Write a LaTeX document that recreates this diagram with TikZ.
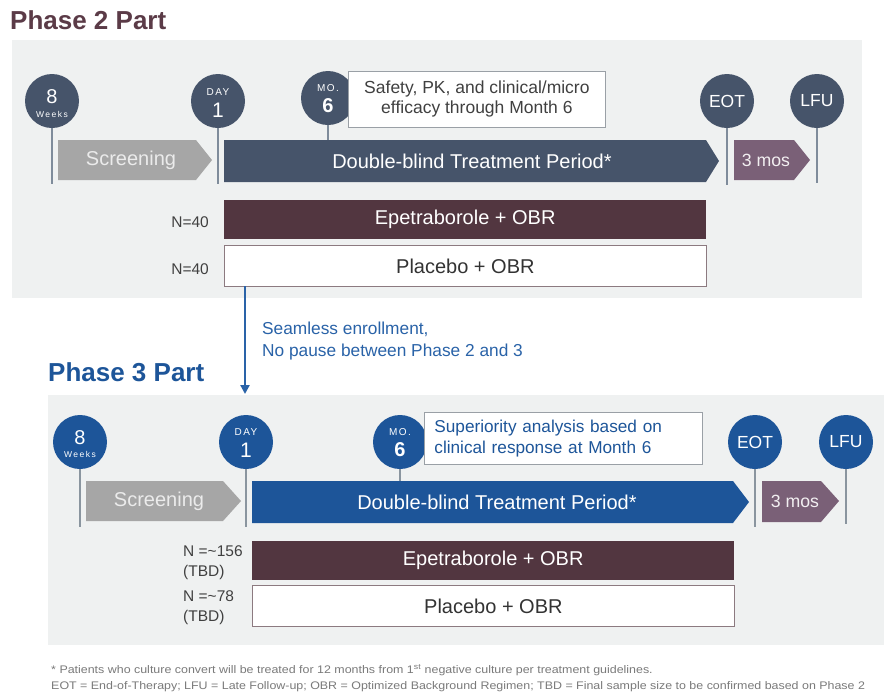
\documentclass[tikz,border=0pt]{standalone}
\usepackage{fontspec}
\setmainfont{Liberation Sans}
\usetikzlibrary{arrows.meta}
\definecolor{ptwo}{HTML}{46546A}
\definecolor{pthree}{HTML}{1D5599}
\definecolor{titlered}{HTML}{5B3B47}
\definecolor{epe}{HTML}{523640}
\definecolor{mos}{HTML}{7A6077}
\definecolor{scr}{HTML}{A6A6A6}
\definecolor{panel}{HTML}{EFF1F1}
\definecolor{stemtwo}{HTML}{7F8C9B}
\definecolor{stemthree}{HTML}{8A959F}
\definecolor{txtdark}{HTML}{404040}
\definecolor{plborder}{HTML}{8C7A80}
\definecolor{coborder}{HTML}{9AA0A6}
\definecolor{seam}{HTML}{2A63A8}
\definecolor{foot}{HTML}{7A7A7A}
\newcommand\fsz[2]{\fontsize{#1}{#2}\selectfont}
\tikzset{
  circtwo/.style={circle, fill=ptwo, minimum size=54pt, inner sep=0pt},
  circthree/.style={circle, fill=pthree, minimum size=54pt, inner sep=0pt},
  ctext/.style={text=white, inner sep=0pt},
  stemline/.style={line width=2pt},
  bartext/.style={inner sep=0pt},
  epebar/.style={fill=epe, text=white, minimum width=482pt, minimum height=39pt, anchor=north west, inner sep=0pt, font=\fsz{20}{22}},
  plbar/.style={fill=white, draw=plborder, line width=0.8pt, text=txtdark!80!black, minimum width=482pt, minimum height=41pt, anchor=north west, inner sep=0pt, font=\fsz{20}{22}},
  nlabel/.style={text=txtdark, inner sep=0pt, font=\fsz{15.5}{20}},
  callout/.style={fill=white, draw=coborder, line width=0.8pt, anchor=north west},
  smallcap/.style={ctext, font=\fsz{10}{10}\addfontfeature{LetterSpace=15}},
  weekstext/.style={ctext, font=\fsz{8.5}{9}\addfontfeature{LetterSpace=18}},
  foottext/.style={anchor=base west, inner sep=0pt, text=foot, font=\fsz{11}{12}, xscale=1.13, transform shape},
}
\begin{document}
\begin{tikzpicture}[x=1pt,y=-1pt]
\useasboundingbox (0,0) rectangle (884,697);
\fill[white] (0,0) rectangle (884,697);

% ===== Phase 2 =====
\node[anchor=base west, inner sep=0pt, font=\bfseries\fsz{26}{30}, text=titlered] (ttwo) at (10,29) {Phase 2 Part};
\fill[panel] (12,40) rectangle (862,298);

% stems
\coordinate (swa) at (52,184);
\coordinate (sda) at (218,184);
\coordinate (sma) at (328,140);
\coordinate (sea) at (727,185);
\coordinate (sla) at (817,183);

\node[circtwo] (wa) at (52,101) {};
\node[circtwo] (da) at (218,101) {};
\node[circtwo] (ma) at (328,98) {};
\node[circtwo] (ea) at (727,101) {};
\node[circtwo] (la) at (817,101) {};

\draw[stemline, stemtwo] (wa) -- (swa);
\draw[stemline, stemtwo] (da) -- (sda);
\draw[stemline, stemtwo] (ma) -- (sma);
\draw[stemline, stemtwo] (ea) -- (sea);
\draw[stemline, stemtwo] (la) -- (sla);

\node[ctext, font=\fsz{20}{20}] (waa) at ([yshift=4pt]wa.center) {8};
\node[weekstext] (wab) at ([yshift=-13pt]wa.center) {Weeks};
\node[smallcap] (daa) at ([yshift=9pt]da.center) {DAY};
\node[ctext, font=\fsz{21}{21}] (dab) at ([yshift=-9pt]da.center) {1};
\node[smallcap] (maa) at ([yshift=10pt]ma.center) {MO.};
\node[ctext, font=\bfseries\fsz{20}{20}] (mab) at ([yshift=-8pt]ma.center) {6};
\node[ctext, font=\fsz{17.5}{20}] (eat) at (ea.center) {EOT};
\node[ctext, font=\fsz{17.5}{20}] (lat) at (la.center) {LFU};

% arrows
\fill[scr] (58,140) -- (196,140) -- (212,160) -- (196,180) -- (58,180) -- cycle;
\node[bartext, text=white!92!black, font=\fsz{20}{22}] (scra) at (131,160) {Screening};
\fill[ptwo] (224,140) -- (706,140) -- (719,161) -- (706,182) -- (224,182) -- cycle;
\node[bartext, text=white, font=\fsz{20}{22}] (dbta) at (472,161) {Double-blind Treatment Period*};
\fill[mos] (734,140) -- (794,140) -- (810,160) -- (794,180) -- (734,180) -- cycle;
\node[bartext, text=white!90!mos, font=\fsz{17.7}{20}] (mosa) at (766,160) {3 mos};

\node[callout, minimum width=257pt, minimum height=56pt, align=center, text=txtdark, font=\fsz{17.5}{20}] (coa) at (348,71) {Safety, PK, and clinical/micro\\efficacy through Month 6};

\node[epebar] (epa) at (224,200) {Epetraborole + OBR};
\node[plbar] (pla) at (224,245) {Placebo + OBR};
\node[nlabel, anchor=east] (nea) at (209,222) {N=40};
\node[nlabel, anchor=east] (npa) at (209,269) {N=40};

% seamless arrow
\coordinate (arrs) at (245,286);
\coordinate (arre) at (245,394);
\draw[seam, line width=2.2pt, -{Triangle[length=9pt,width=9pt]}] (arrs) -- (arre);
\node[anchor=west, align=left, inner sep=0pt, text=seam, font=\fsz{17.3}{22}] (seamt) at (262,341) {Seamless enrollment,\\No pause between Phase 2 and 3};

% ===== Phase 3 =====
\node[anchor=base west, inner sep=0pt, font=\bfseries\fsz{26}{30}, text=pthree] (tthree) at (48,381) {Phase 3 Part};
\fill[panel] (48,395) rectangle (884,645);

\coordinate (swb) at (80,527);
\coordinate (sdb) at (246,527);
\coordinate (smb) at (400,481);
\coordinate (seb) at (755,527);
\coordinate (slb) at (846,524);

\node[circthree] (wb) at (80,442) {};
\node[circthree] (db) at (246,442) {};
\node[circthree] (mb) at (400,442) {};
\node[circthree] (eb) at (755,442) {};
\node[circthree] (lb) at (846,442) {};

\draw[stemline, stemthree] (wb) -- (swb);
\draw[stemline, stemthree] (db) -- (sdb);
\draw[stemline, stemthree] (mb) -- (smb);
\draw[stemline, stemthree] (eb) -- (seb);
\draw[stemline, stemthree] (lb) -- (slb);

\node[ctext, font=\fsz{20}{20}] (wba) at ([yshift=4pt]wb.center) {8};
\node[weekstext] (wbb) at ([yshift=-12pt]wb.center) {Weeks};
\node[smallcap] (dba) at ([yshift=10pt]db.center) {DAY};
\node[ctext, font=\fsz{21}{21}] (dbb) at ([yshift=-8pt]db.center) {1};
\node[smallcap] (mba) at ([yshift=10pt]mb.center) {MO.};
\node[ctext, font=\bfseries\fsz{20}{20}] (mbb) at ([yshift=-8pt]mb.center) {6};
\node[ctext, font=\fsz{17.5}{20}] (ebt) at (eb.center) {EOT};
\node[ctext, font=\fsz{17.5}{20}] (lbt) at (lb.center) {LFU};

\fill[scr] (86,481) -- (223,481) -- (241,501) -- (223,521) -- (86,521) -- cycle;
\node[bartext, text=white!92!black, font=\fsz{20}{22}] (scrb) at (159,501) {Screening};
\fill[pthree] (252,481) -- (733,481) -- (749,502) -- (733,523) -- (252,523) -- cycle;
\node[bartext, text=white, font=\fsz{20}{22}] (dbtb) at (497,502) {Double-blind Treatment Period*};
\fill[mos] (762,481) -- (821,481) -- (839,501) -- (821,522) -- (762,522) -- cycle;
\node[bartext, text=white!90!mos, font=\fsz{17.7}{20}] (mosb) at (795,501) {3 mos};

\node[callout, minimum width=278pt, minimum height=52pt, inner xsep=10pt, text width=258pt, align=left, text=pthree, font=\fsz{17.2}{21}] (cob) at (424,412) {Superiority analysis based on\\clinical response at Month 6};

\node[epebar] (epb) at (252,541) {Epetraborole + OBR};
\node[plbar] (plb) at (252,585) {Placebo + OBR};
\node[nlabel, anchor=west, align=left] (neb) at (183,563) {N =\textasciitilde156\\(TBD)};
\node[nlabel, anchor=west, align=left] (npb) at (183,608) {N =\textasciitilde78\\(TBD)};

% footnotes
\node[foottext] (fna) at (51,673) {* Patients who culture convert will be treated for 12 months from 1\textsuperscript{st} negative culture per treatment guidelines.};
\node[foottext] (fnb) at (51,689) {EOT = End-of-Therapy; LFU = Late Follow-up; OBR = Optimized Background Regimen; TBD = Final sample size to be confirmed based on Phase 2};
\end{tikzpicture}
\end{document}
